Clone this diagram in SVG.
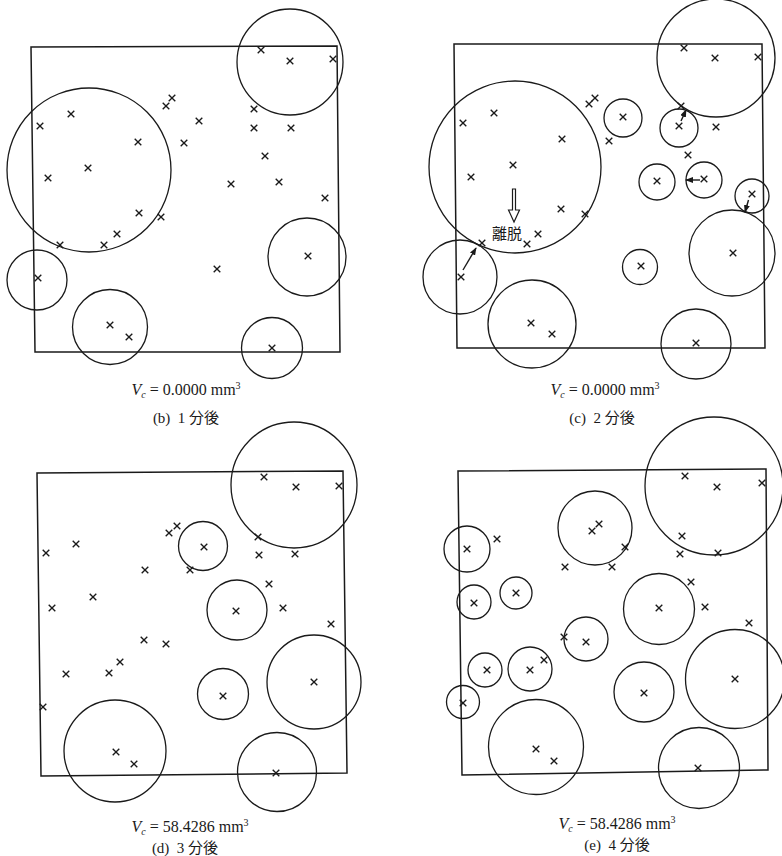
<svg xmlns="http://www.w3.org/2000/svg" xmlns:xlink="http://www.w3.org/1999/xlink" width="782" height="856" viewBox="0 0 782 856">
<style>
.frame{fill:none;stroke:#1a1a1a;stroke-width:1.5}
.c{fill:none;stroke:#1a1a1a;stroke-width:1.3}
.x{fill:none;stroke:#1a1a1a;stroke-width:1.35}
.cap{font-family:"Liberation Serif","Noto Sans CJK JP",serif;font-size:16px;fill:#1a1a1a;text-anchor:middle}
.sub{font-family:"Liberation Serif","Noto Sans CJK JP",serif;font-size:15px;fill:#1a1a1a;text-anchor:middle}
.arr{fill:none;stroke:#1a1a1a;stroke-width:1.4}
</style>
<defs>
<path id="x" class="x" d="M-3.3,-3.3 L3.3,3.3 M3.3,-3.3 L-3.3,3.3"/>
<marker id="ah" markerWidth="8" markerHeight="6" refX="7" refY="3" orient="auto" markerUnits="userSpaceOnUse">
<path d="M0,0 L8,3 L0,6 Z" fill="#1a1a1a"/>
</marker>
</defs>
<rect width="782" height="856" fill="#ffffff"/>

<g id="panel-b">
<polygon class="frame" points="31,47 337,46 340,352 35,352"/>
<g id="b-circles">
<circle class="c" cx="290" cy="62" r="53"/>
<circle class="c" cx="89" cy="170" r="82"/>
<circle class="c" cx="307" cy="257" r="39"/>
<circle class="c" cx="37" cy="280" r="30"/>
<circle class="c" cx="110" cy="327" r="37.5"/>
<circle class="c" cx="272" cy="348" r="30.5"/>
</g>
<g id="b-points">
<use href="#x" x="261" y="50"/><use href="#x" x="290" y="61"/><use href="#x" x="333" y="59"/>
<use href="#x" x="172" y="98"/><use href="#x" x="166" y="106"/><use href="#x" x="254" y="109"/>
<use href="#x" x="71" y="114"/><use href="#x" x="40" y="126"/><use href="#x" x="199" y="121"/>
<use href="#x" x="254" y="128"/><use href="#x" x="291" y="128"/><use href="#x" x="138" y="142"/>
<use href="#x" x="184" y="143"/><use href="#x" x="265" y="156"/><use href="#x" x="88" y="168"/>
<use href="#x" x="48" y="178"/><use href="#x" x="231" y="184"/><use href="#x" x="279" y="182"/>
<use href="#x" x="325" y="198"/><use href="#x" x="139" y="213"/><use href="#x" x="161" y="217"/>
<use href="#x" x="117" y="234"/><use href="#x" x="104" y="245"/><use href="#x" x="60" y="245"/>
<use href="#x" x="38" y="278"/><use href="#x" x="217" y="269"/><use href="#x" x="308" y="256"/>
<use href="#x" x="110" y="325"/><use href="#x" x="129" y="337"/><use href="#x" x="272" y="348"/>
</g>
<text class="cap" x="186" y="395"><tspan font-style="italic">V</tspan><tspan font-style="italic" font-size="10" dy="3">c</tspan><tspan dy="-3"> = 0.0000 mm</tspan><tspan font-size="10" dy="-6">3</tspan></text>
<text class="sub" x="186" y="423" xml:space="preserve">(b)  1 分後</text>
</g>

<g id="panel-c">
<polygon class="frame" points="454,44 762,44 765,348 457,348"/>
<g id="c-circles">
<circle class="c" cx="716" cy="58" r="59"/>
<circle class="c" cx="515" cy="167" r="86"/>
<circle class="c" cx="623" cy="118" r="19"/>
<circle class="c" cx="679" cy="128" r="19"/>
<circle class="c" cx="657" cy="182" r="18"/>
<circle class="c" cx="704" cy="180" r="18"/>
<circle class="c" cx="752" cy="196" r="17"/>
<circle class="c" cx="732" cy="253" r="43"/>
<circle class="c" cx="460" cy="277" r="37"/>
<circle class="c" cx="640" cy="267" r="17.5"/>
<circle class="c" cx="532" cy="324" r="44"/>
<circle class="c" cx="696" cy="344" r="35"/>
</g>
<g id="c-points">
<use href="#x" x="684" y="48"/><use href="#x" x="715" y="58"/><use href="#x" x="758" y="57"/>
<use href="#x" x="595" y="98"/><use href="#x" x="589" y="104"/><use href="#x" x="681" y="106"/>
<use href="#x" x="494" y="113"/><use href="#x" x="463" y="123"/><use href="#x" x="623" y="117"/>
<use href="#x" x="679" y="126"/><use href="#x" x="716" y="127"/><use href="#x" x="562" y="139"/>
<use href="#x" x="609" y="141"/><use href="#x" x="688" y="155"/><use href="#x" x="513" y="165"/>
<use href="#x" x="471" y="177"/><use href="#x" x="657" y="181"/><use href="#x" x="704" y="179"/>
<use href="#x" x="752" y="194"/><use href="#x" x="561" y="209"/><use href="#x" x="585" y="214"/>
<use href="#x" x="538" y="234"/><use href="#x" x="527" y="244"/><use href="#x" x="482" y="243"/>
<use href="#x" x="461" y="277"/><use href="#x" x="641" y="266"/><use href="#x" x="733" y="253"/>
<use href="#x" x="531" y="323"/><use href="#x" x="552" y="334"/><use href="#x" x="696" y="343"/>
</g>
<g id="c-arrows">
<path d="M512.5,189 L515.5,189 L515.5,210 L519.5,210 L514,222 L508.5,210 L512.5,210 Z" fill="#fff" stroke="#1a1a1a" stroke-width="1.2"/>
<line class="arr" x1="463" y1="270" x2="476" y2="248" marker-end="url(#ah)"/>
<line class="arr" x1="681" y1="121" x2="686" y2="110" marker-end="url(#ah)"/>
<line class="arr" x1="700" y1="180" x2="686" y2="180" marker-end="url(#ah)"/>
<line class="arr" x1="748.5" y1="200" x2="745" y2="212" marker-end="url(#ah)"/>
</g>
<text x="507" y="239" font-family="Noto Sans CJK JP, sans-serif" font-size="15" fill="#1a1a1a" text-anchor="middle">離脱</text>
<text class="cap" x="605" y="395"><tspan font-style="italic">V</tspan><tspan font-style="italic" font-size="10" dy="3">c</tspan><tspan dy="-3"> = 0.0000 mm</tspan><tspan font-size="10" dy="-6">3</tspan></text>
<text class="sub" x="602" y="423" xml:space="preserve">(c)  2 分後</text>
</g>

<g id="panel-d">
<polygon class="frame" points="37,473 343,471 347,773 41,776"/>
<g id="d-circles">
<circle class="c" cx="294" cy="485" r="63"/>
<circle class="c" cx="203" cy="546" r="24.5"/>
<circle class="c" cx="237" cy="610" r="30"/>
<circle class="c" cx="223" cy="694" r="25.5"/>
<circle class="c" cx="314" cy="682" r="47"/>
<circle class="c" cx="115" cy="751" r="51"/>
<circle class="c" cx="277" cy="772" r="39.5"/>
</g>
<g id="d-points">
<use href="#x" x="264" y="477"/><use href="#x" x="296" y="487"/><use href="#x" x="339" y="486"/>
<use href="#x" x="177" y="526"/><use href="#x" x="169" y="533"/><use href="#x" x="258" y="537"/>
<use href="#x" x="76" y="544"/><use href="#x" x="46" y="553"/><use href="#x" x="204" y="547"/>
<use href="#x" x="259" y="555"/><use href="#x" x="295" y="554"/><use href="#x" x="145" y="570"/>
<use href="#x" x="190" y="570"/><use href="#x" x="269" y="584"/><use href="#x" x="93" y="597"/>
<use href="#x" x="52" y="608"/><use href="#x" x="236" y="611"/><use href="#x" x="283" y="608"/>
<use href="#x" x="331" y="624"/><use href="#x" x="144" y="640"/><use href="#x" x="166" y="644"/>
<use href="#x" x="120" y="662"/><use href="#x" x="109" y="673"/><use href="#x" x="66" y="674"/>
<use href="#x" x="43" y="707"/><use href="#x" x="223" y="696"/><use href="#x" x="314" y="682"/>
<use href="#x" x="116" y="752"/><use href="#x" x="134" y="764"/><use href="#x" x="276" y="773"/>
</g>
<text class="cap" x="190" y="832"><tspan font-style="italic">V</tspan><tspan font-style="italic" font-size="10" dy="3">c</tspan><tspan dy="-3"> = 58.4286 mm</tspan><tspan font-size="10" dy="-6">3</tspan></text>
<text class="sub" x="185" y="853" xml:space="preserve">(d)  3 分後</text>
</g>

<g id="panel-e">
<polygon class="frame" points="458,471 766,469 768,770 462,775"/>
<g id="e-circles">
<circle class="c" cx="714" cy="486" r="69"/>
<circle class="c" cx="595" cy="528" r="37"/>
<circle class="c" cx="467" cy="549" r="23"/>
<circle class="c" cx="474" cy="602" r="17"/>
<circle class="c" cx="516" cy="593" r="16"/>
<circle class="c" cx="659" cy="609" r="35.5"/>
<circle class="c" cx="586" cy="639" r="22"/>
<circle class="c" cx="485" cy="670" r="17"/>
<circle class="c" cx="530" cy="669" r="22"/>
<circle class="c" cx="463" cy="702" r="16.5"/>
<circle class="c" cx="644" cy="692" r="30"/>
<circle class="c" cx="735" cy="679" r="49.5"/>
<circle class="c" cx="536" cy="747" r="47.5"/>
<circle class="c" cx="699" cy="768" r="40.5"/>
</g>
<g id="e-points">
<use href="#x" x="685" y="476"/><use href="#x" x="717" y="487"/><use href="#x" x="762" y="483"/>
<use href="#x" x="599" y="524"/><use href="#x" x="592" y="531"/><use href="#x" x="497" y="539"/>
<use href="#x" x="467" y="549"/><use href="#x" x="682" y="536"/><use href="#x" x="625" y="547"/>
<use href="#x" x="680" y="554"/><use href="#x" x="718" y="553"/><use href="#x" x="565" y="567"/>
<use href="#x" x="612" y="567"/><use href="#x" x="691" y="582"/><use href="#x" x="516" y="593"/>
<use href="#x" x="474" y="603"/><use href="#x" x="659" y="608"/><use href="#x" x="705" y="607"/>
<use href="#x" x="749" y="623"/><use href="#x" x="564" y="637"/><use href="#x" x="586" y="642"/>
<use href="#x" x="544" y="660"/><use href="#x" x="530" y="670"/><use href="#x" x="487" y="670"/>
<use href="#x" x="463" y="703"/><use href="#x" x="644" y="693"/><use href="#x" x="735" y="679"/>
<use href="#x" x="536" y="749"/><use href="#x" x="554" y="761"/><use href="#x" x="698" y="768"/>
</g>
<text class="cap" x="617" y="829"><tspan font-style="italic">V</tspan><tspan font-style="italic" font-size="10" dy="3">c</tspan><tspan dy="-3"> = 58.4286 mm</tspan><tspan font-size="10" dy="-6">3</tspan></text>
<text class="sub" x="617" y="850" xml:space="preserve">(e)  4 分後</text>
</g>
</svg>
